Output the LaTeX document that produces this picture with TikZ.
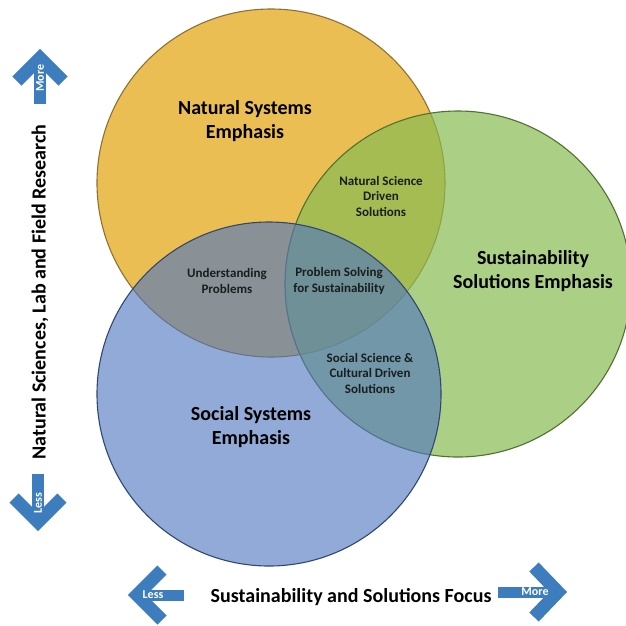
\documentclass[tikz,border=0pt]{standalone}
\usepackage{fontspec}
\setmainfont{Carlito}
\definecolor{natyellow}{RGB}{235,190,84}
\definecolor{solgreen}{RGB}{135,188,82}
\definecolor{socblue}{RGB}{80,118,192}
\definecolor{arrowblue}{RGB}{61,125,190}
\definecolor{inktext}{RGB}{25,30,30}

\begin{document}
\begin{tikzpicture}[x=1pt, y=-1pt]
        \tikzstyle{every node}=[align=center, inner sep=1pt, text=inktext]
        \tikzstyle{set}=[line width=1.1pt]
        \tikzstyle{big}=[font=\bfseries\fontsize{20}{24.5}\selectfont, text=black]
        \tikzstyle{small}=[font=\bfseries\fontsize{13}{15.5}\selectfont]
        \tikzstyle{axis}=[font=\bfseries\fontsize{20}{22}\selectfont, text=black]
        \tikzstyle{chevron}=[draw=arrowblue, line width=13pt, line join=miter]
        \tikzstyle{tag}=[text=white, font=\bfseries\fontsize{12}{13}\selectfont]
        \useasboundingbox (0,0) rectangle (626,625);
        \fill[white] (0,0) rectangle (626,625);
        % circles
        \filldraw[set, fill=natyellow, draw=natyellow!60!black] (271,183) circle (174);
        \filldraw[set, fill=solgreen, fill opacity=0.7, draw=solgreen!60!black] (458,284) circle (173);
        \filldraw[set, fill=socblue, fill opacity=0.62, draw=socblue!60!black] (269,394) circle (172);
        % labels
        \node [big] (natural) at (245,121) {Natural Systems\\Emphasis};
        \node [big] (solutions) at (533,271) {Sustainability\\Solutions Emphasis};
        \node [big] (social) at (251,427) {Social Systems\\Emphasis};
        \node [small] (natdriven) at (381,196) {Natural Science\\Driven\\Solutions};
        \node [small] (understand) at (227,281) {Understanding\\Problems};
        \node [small] (solving) at (339,281) {Problem Solving\\for Sustainability};
        \node [small] (socdriven) at (370,373) {Social Science \&\\Cultural Driven\\Solutions};
        % axes
        \node [axis, rotate=90] (vlabel) at (40,292) {Natural Sciences, Lab and Field Research};
        \node [axis] (hlabel) at (351,597) {Sustainability and Solutions Focus};
        \draw [chevron] (17,81) -- (40,58) -- (63,81);
        \draw [chevron, line width=12pt] (40,58) -- (40,104);
        \node [tag, rotate=90] (upmore) at (40,78) {More};
        \draw [chevron] (14,498) -- (38,522) -- (62,498);
        \draw [chevron, line width=12pt] (38,474) -- (38,522);
        \node [tag, rotate=90] (downless) at (38,503) {Less};
        \draw [chevron] (162,570) -- (137,595) -- (162,620);
        \draw [chevron, line width=11pt] (137,595) -- (184,595);
        \node [tag] (leftless) at (153,595) {Less};
        \draw [chevron] (534,567) -- (558,592) -- (534,617);
        \draw [chevron, line width=11pt] (498,592) -- (558,592);
        \node [tag] (rightmore) at (535,592) {More};
    \end{tikzpicture}
\end{document}
